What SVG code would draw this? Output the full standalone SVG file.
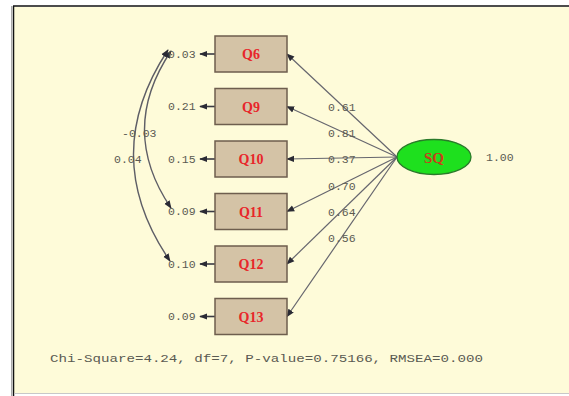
<svg xmlns="http://www.w3.org/2000/svg" width="569" height="396" viewBox="0 0 569 396">
  <defs>
    <style>
      .box { fill: #d4c3a6; stroke: #6e5e4e; stroke-width: 1.5; }
      .vlab { font-family: "Liberation Serif", serif; font-weight: bold; font-size: 14px; fill: #e8262a; text-anchor: middle; }
      .num { font-family: "Liberation Mono", monospace; font-size: 11.5px; fill: #5a5a52; }
      .edge { fill: none; stroke: #66666e; stroke-width: 1.2; }
      .err { fill: none; stroke: #3a3a44; stroke-width: 1.6; }
      .cov { fill: none; stroke: #5e5e66; stroke-width: 1.4; }
    </style>
    <marker id="ah" viewBox="0 0 10 10" refX="9" refY="5" markerWidth="8" markerHeight="8" orient="auto-start-reverse" markerUnits="userSpaceOnUse">
      <path d="M0,1 L10,5 L0,9 Z" fill="#2a2a34"/>
    </marker>
  </defs>

  <!-- canvas frame -->
  <rect x="0" y="0" width="569" height="396" fill="#ffffff"/>
  <rect x="14" y="7" width="555" height="386" fill="#fefbd9"/>
  <line x1="13.5" y1="6" x2="13.5" y2="396" stroke="#111" stroke-width="1.5"/>
  <line x1="11.5" y1="6" x2="11.5" y2="396" stroke="#aaa" stroke-width="1"/>
  <line x1="13" y1="6" x2="569" y2="6" stroke="#111" stroke-width="1.5"/>
  <line x1="14" y1="393.5" x2="569" y2="393.5" stroke="#c8c8c8" stroke-width="1"/>

  <!-- connectors -->
  <g id="connectors">
    <!-- loadings from SQ -->
    <line class="edge" x1="397" y1="157" x2="287" y2="54" marker-end="url(#ah)"/>
    <line class="edge" x1="397" y1="157" x2="287" y2="106.5" marker-end="url(#ah)"/>
    <line class="edge" x1="397" y1="157" x2="287" y2="159" marker-end="url(#ah)"/>
    <line class="edge" x1="397" y1="157" x2="287" y2="211.5" marker-end="url(#ah)"/>
    <line class="edge" x1="397" y1="157" x2="287" y2="264" marker-end="url(#ah)"/>
    <line class="edge" x1="397" y1="157" x2="287" y2="316.5" marker-end="url(#ah)"/>
    <!-- error terms -->
    <line class="err" x1="215" y1="54" x2="200" y2="54" marker-end="url(#ah)"/>
    <line class="err" x1="215" y1="106.5" x2="200" y2="106.5" marker-end="url(#ah)"/>
    <line class="err" x1="215" y1="159" x2="200" y2="159" marker-end="url(#ah)"/>
    <line class="err" x1="215" y1="211.5" x2="200" y2="211.5" marker-end="url(#ah)"/>
    <line class="err" x1="215" y1="264" x2="200" y2="264" marker-end="url(#ah)"/>
    <line class="err" x1="215" y1="316.5" x2="200" y2="316.5" marker-end="url(#ah)"/>
    <!-- error covariances -->
    <path class="cov" d="M171,51 Q118,130 171,208" marker-start="url(#ah)" marker-end="url(#ah)"/>
    <path class="cov" d="M168,50 Q98,156 170,261" marker-start="url(#ah)" marker-end="url(#ah)"/>
  </g>

  <!-- loading values -->
  <g id="loadings">
    <text class="num" x="328" y="111">0.61</text>
    <text class="num" x="328" y="137">0.81</text>
    <text class="num" x="328" y="163">0.37</text>
    <text class="num" x="328" y="190">0.70</text>
    <text class="num" x="328" y="216">0.64</text>
    <text class="num" x="328" y="242">0.56</text>
  </g>

  <!-- error variances -->
  <g id="errors">
    <text class="num" x="168" y="57.5">0.03</text>
    <text class="num" x="168" y="110">0.21</text>
    <text class="num" x="168" y="162.5">0.15</text>
    <text class="num" x="168" y="215">0.09</text>
    <text class="num" x="168" y="267.5">0.10</text>
    <text class="num" x="168" y="320">0.09</text>
    <text class="num" x="122" y="137">-0.03</text>
    <text class="num" x="114" y="163">0.04</text>
  </g>

  <g id="Q6"><rect class="box" x="215" y="36" width="72" height="36"/><text class="vlab" x="251" y="59">Q6</text></g>
  <g id="Q9"><rect class="box" x="215" y="88.5" width="72" height="36"/><text class="vlab" x="251" y="111.5">Q9</text></g>
  <g id="Q10"><rect class="box" x="215" y="141" width="72" height="36"/><text class="vlab" x="251" y="164">Q10</text></g>
  <g id="Q11"><rect class="box" x="215" y="193.5" width="72" height="36"/><text class="vlab" x="251" y="216.5">Q11</text></g>
  <g id="Q12"><rect class="box" x="215" y="246" width="72" height="36"/><text class="vlab" x="251" y="269">Q12</text></g>
  <g id="Q13"><rect class="box" x="215" y="298.5" width="72" height="36"/><text class="vlab" x="251" y="321.5">Q13</text></g>

  <g id="SQ">
    <ellipse cx="434" cy="157" rx="37" ry="17.5" fill="#1ee01e" stroke="#2a7a2a" stroke-width="1.3"/>
    <text x="434" y="162.5" font-family="Liberation Serif, serif" font-weight="bold" font-size="15" fill="#c8401a" text-anchor="middle">SQ</text>
    <text class="num" x="486" y="161">1.00</text>
  </g>

  <text id="fit" class="num" x="50" y="362" font-size="13" textLength="433" lengthAdjust="spacingAndGlyphs">Chi-Square=4.24, df=7, P-value=0.75166, RMSEA=0.000</text>
</svg>
